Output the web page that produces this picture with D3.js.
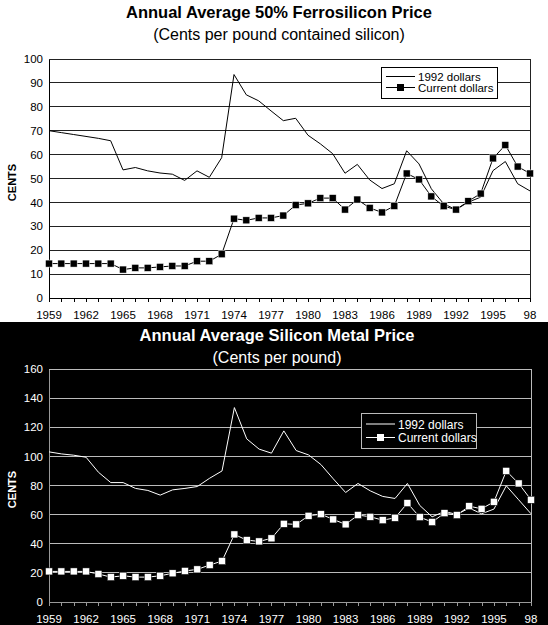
<!DOCTYPE html>
<html>
<head>
<meta charset="utf-8">
<script src="https://cdn.jsdelivr.net/npm/d3@7"></script>
<style>
  body { margin: 0; background: #fff; }
  svg text { font-family: Arial, "Liberation Sans", sans-serif; }
</style>
</head>
<body>
<div id="svgbody"></div>
<script>
// years shared by both charts
const years = d3.range(1959, 1999);
const tickYears = [1959, 1962, 1965, 1968, 1971, 1974, 1977, 1980, 1983, 1986, 1989, 1992, 1995, 1998];

// ferrosilicon, cents per pound contained silicon
const fesiReal = [70.0, 69.2, 68.4, 67.6, 66.8, 65.8, 53.6, 54.6, 53.2, 52.3, 51.8, 49.2, 53.2, 50.5, 58.7,
  93.5, 85.0, 82.5, 78.3, 74.2, 75.2, 68.1, 64.5, 60.4, 52.2, 55.9, 49.4, 45.8, 47.8, 61.6, 56.1, 45.7,
  39.4, 37.0, 40.1, 42.2, 53.3, 57.1, 47.8, 44.8];
const fesiCurrent = [14.4, 14.4, 14.4, 14.4, 14.4, 14.4, 11.9, 12.6, 12.6, 13.0, 13.4, 13.4, 15.4, 15.4, 18.3,
  33.2, 32.5, 33.5, 33.5, 34.5, 38.9, 39.6, 41.8, 41.8, 37.0, 41.2, 37.7, 35.8, 38.5, 52.1, 49.6, 42.5,
  38.4, 37.0, 40.5, 43.7, 58.4, 64.0, 55.0, 52.1];

// silicon metal, cents per pound
const simReal = [103.1, 101.7, 100.8, 99.4, 89.1, 82.0, 82.0, 78.0, 76.6, 73.4, 77.0, 78.0, 79.3, 85.0, 90.0,
  133.5, 112.0, 105.0, 102.2, 117.5, 104.0, 101.0, 94.4, 84.6, 75.2, 81.4, 76.3, 72.5, 71.1, 81.4, 66.3,
  58.5, 62.2, 60.1, 64.5, 60.6, 63.8, 79.8, 70.2, 60.6];
const simCurrent = [21.0, 21.0, 21.0, 21.0, 19.2, 17.1, 18.0, 17.1, 17.1, 18.0, 19.7, 21.3, 22.4, 25.4, 28.1,
  46.4, 42.5, 41.6, 43.7, 53.7, 53.3, 59.2, 60.3, 56.7, 53.3, 59.7, 58.5, 56.2, 57.8, 67.9, 58.3, 54.9,
  61.0, 59.7, 65.8, 64.0, 68.8, 90.0, 81.4, 70.2];

const legendLabels = ["1992 dollars", "Current dollars"];

const W = 548, H = 625;
const svg = d3.select("#svgbody").append("svg").attr("width", W).attr("height", H);

svg.append("rect").attr("x", 0).attr("y", 322).attr("width", W).attr("height", H - 322).attr("fill", "#000");

function drawChart(cfg) {
  const g = svg.append("g");
  const x = d3.scaleLinear().domain([1959, 1998]).range([cfg.left, cfg.right]);
  const y = d3.scaleLinear().domain([0, cfg.yMax]).range([cfg.bottom, cfg.top]);

  g.append("text").attr("x", cfg.cx).attr("y", cfg.titleY).attr("text-anchor", "middle")
    .attr("font-size", "16.5px").attr("font-weight", "bold").attr("fill", cfg.fg).text(cfg.title);
  g.append("text").attr("x", cfg.cx).attr("y", cfg.subY).attr("text-anchor", "middle")
    .attr("font-size", "16px").attr("fill", cfg.fg).text(cfg.subtitle);

  // gridlines
  g.selectAll(".grid").data(y.ticks(cfg.yMax / cfg.yStep).filter(d => d > 0)).enter().append("line")
    .attr("x1", cfg.left).attr("x2", cfg.right)
    .attr("y1", d => y(d)).attr("y2", d => y(d))
    .attr("stroke", cfg.grid).attr("stroke-width", 1).attr("shape-rendering", "crispEdges");
  g.append("line").attr("x1", cfg.right).attr("x2", cfg.right).attr("y1", cfg.top).attr("y2", cfg.bottom)
    .attr("stroke", cfg.grid).attr("shape-rendering", "crispEdges");

  const yAxis = g.append("g").attr("transform", `translate(${cfg.left},0)`)
    .call(d3.axisLeft(y).tickValues(d3.range(0, cfg.yMax + 1, cfg.yStep)).tickSize(0).tickPadding(6));
  yAxis.select(".domain").attr("stroke", cfg.axis).attr("shape-rendering", "crispEdges");
  yAxis.selectAll("text").attr("font-size", "11.5px").attr("fill", cfg.fg)
    .style("font-family", "Arial, 'Liberation Sans', sans-serif");

  const xAxis = g.append("g").attr("transform", `translate(0,${cfg.bottom})`)
    .call(d3.axisBottom(x).tickValues(years).tickSizeInner(4).tickSizeOuter(0).tickFormat(() => ""));
  xAxis.select(".domain").attr("stroke", cfg.axis).attr("shape-rendering", "crispEdges");
  xAxis.selectAll("line").attr("stroke", cfg.axis).attr("shape-rendering", "crispEdges");

  g.selectAll(".xl").data(tickYears).enter().append("text")
    .attr("x", d => x(d)).attr("y", cfg.bottom + 21).attr("text-anchor", "middle")
    .attr("font-size", "11.5px").attr("fill", cfg.fg)
    .text(d => d === 1998 ? "98" : d);

  g.append("text").attr("transform", `translate(16,${(cfg.top + cfg.bottom) / 2 + 4}) rotate(-90)`)
    .attr("text-anchor", "middle").attr("font-size", "11px").attr("font-weight", "bold")
    .attr("fill", cfg.fg).text("CENTS");

  const line = d3.line().x((d, i) => x(years[i])).y(d => y(d));
  g.append("path").datum(cfg.real).attr("d", line).attr("fill", "none")
    .attr("stroke", cfg.fg).attr("stroke-width", 1);
  g.append("path").datum(cfg.current).attr("d", line).attr("fill", "none")
    .attr("stroke", cfg.fg).attr("stroke-width", 1);
  const ms = 7;
  g.selectAll(".mk").data(cfg.current).enter().append("rect")
    .attr("x", (d, i) => x(years[i]) - ms / 2).attr("y", d => y(d) - ms / 2)
    .attr("width", ms).attr("height", ms).attr("fill", cfg.fg)
    .attr("stroke", cfg.bg).attr("stroke-width", 0.5);

  // legend
  const L = cfg.legend;
  const lg = g.append("g");
  lg.append("rect").attr("x", L.x).attr("y", L.y).attr("width", L.w).attr("height", L.h)
    .attr("fill", cfg.bg).attr("stroke", cfg.legendStroke).attr("shape-rendering", "crispEdges");
  legendLabels.forEach((lab, i) => {
    const ly = L.y + L.row0 + i * L.rowH;
    lg.append("line").attr("x1", L.x + 5).attr("x2", L.x + 34).attr("y1", ly).attr("y2", ly)
      .attr("stroke", cfg.fg);
    if (i === 1) {
      lg.append("rect").attr("x", L.x + 19.5 - ms / 2).attr("y", ly - ms / 2)
        .attr("width", ms).attr("height", ms).attr("fill", cfg.fg);
    }
    lg.append("text").attr("x", L.x + 37).attr("y", ly + 4.5).attr("font-size", L.font)
      .attr("fill", cfg.fg).text(lab);
  });
}

drawChart({
  title: "Annual Average 50% Ferrosilicon Price",
  subtitle: "(Cents per pound contained silicon)",
  cx: 279, titleY: 18, subY: 40,
  left: 49, right: 530, top: 59, bottom: 298, yMax: 100, yStep: 10,
  real: fesiReal, current: fesiCurrent,
  fg: "#000", bg: "#fff", grid: "#222", axis: "#000", legendStroke: "#000",
  legend: { x: 381, y: 67, w: 116, h: 31, row0: 9.5, rowH: 11, font: "11.5px" }
});

drawChart({
  title: "Annual Average Silicon Metal Price",
  subtitle: "(Cents per pound)",
  cx: 277, titleY: 341, subY: 363,
  left: 49, right: 531, top: 369, bottom: 602, yMax: 160, yStep: 20,
  real: simReal, current: simCurrent,
  fg: "#fff", bg: "#000", grid: "#bbb", axis: "#999", legendStroke: "#bbb",
  legend: { x: 361, y: 413, w: 115, h: 35, row0: 11, rowH: 13.5, font: "12px" }
});
</script>
</body>
</html>
